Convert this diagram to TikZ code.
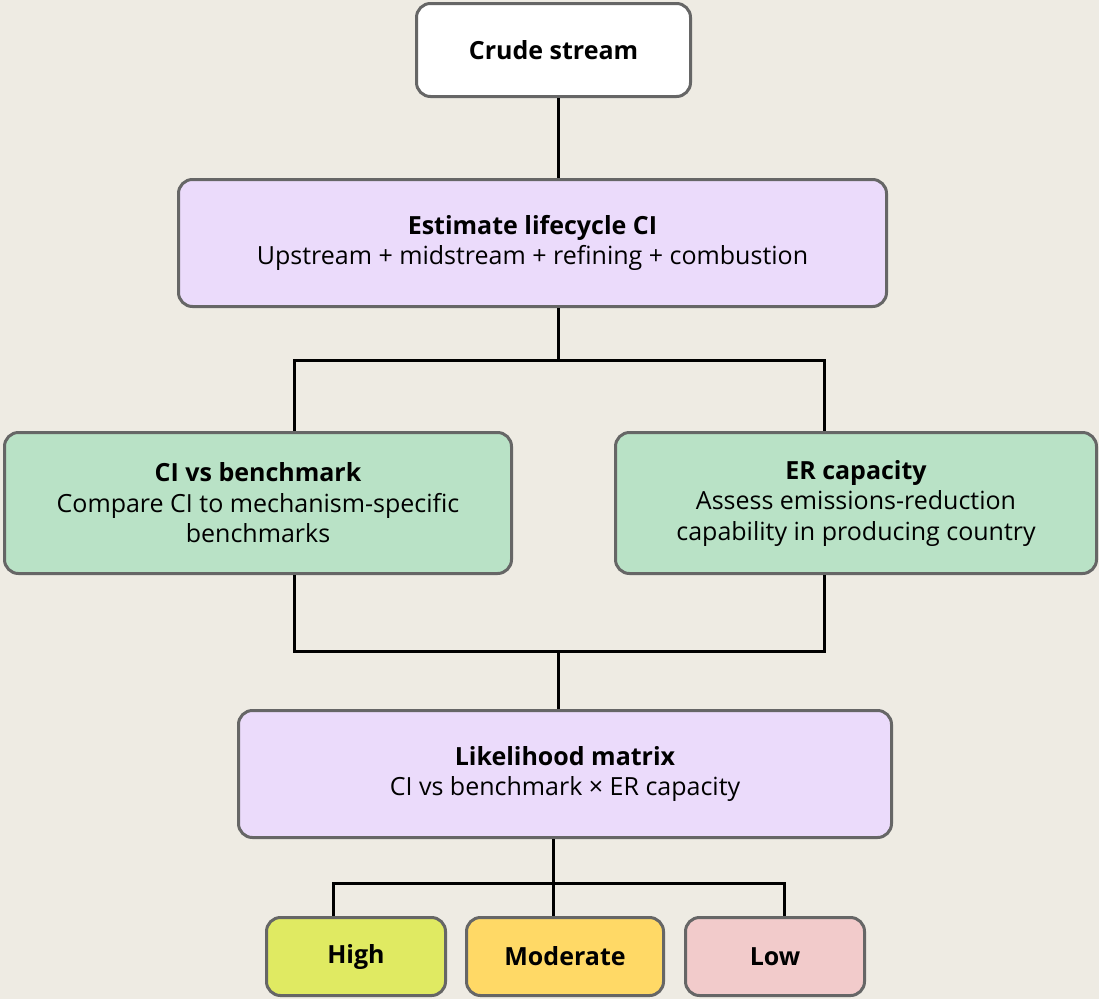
\documentclass[tikz,border=0pt]{standalone}
\usepackage{fontspec}
\setmainfont{Open Sans}
\definecolor{bg}{HTML}{EEEBE3}
\definecolor{bord}{HTML}{666666}
\definecolor{purp}{HTML}{EBDBFB}
\definecolor{grn}{HTML}{B9E2C6}
\definecolor{hi}{HTML}{E0EA62}
\definecolor{mod}{HTML}{FFD966}
\definecolor{lo}{HTML}{F2CBCB}
\begin{document}
\begin{tikzpicture}[x=1pt,y=-1pt,
  box/.style={draw=bord, line width=3pt, rounded corners=14pt, align=center, inner sep=0pt,
    font=\fontsize{25}{30.5}\selectfont},
  conn/.style={draw=black, line width=3pt}]
\fill[bg] (0,0) rectangle (1099,999);
\useasboundingbox (0,0) rectangle (1099,999);
\node[box, fill=white, minimum width=274, minimum height=93] (crude) at (553.5,50) {\textbf{Crude stream}};
\node[box, fill=purp, minimum width=708, minimum height=127] (est) at (532.5,243) {\textbf{Estimate lifecycle CI}\\Upstream + midstream + refining + combustion};
\node[box, fill=grn, minimum width=507, minimum height=141] (ci) at (258,503) {\textbf{CI vs benchmark}\\Compare CI to mechanism-specific\\benchmarks};
\node[box, fill=grn, minimum width=481, minimum height=141] (er) at (856,503) {\textbf{ER capacity}\\Assess emissions-reduction\\capability in producing country};
\node[box, fill=purp, minimum width=653, minimum height=127] (lik) at (565,774) {\textbf{Likelihood matrix}\\CI vs benchmark × ER capacity};
\node[box, fill=hi, minimum width=179, minimum height=78] (high) at (356,956.5) {\textbf{High}};
\node[box, fill=mod, minimum width=197, minimum height=78] (mod) at (565,956.5) {\textbf{Moderate}};
\node[box, fill=lo, minimum width=179, minimum height=78] (low) at (775,956.5) {\textbf{Low}};
% connectors
\draw[conn] ([xshift=4.5]crude.south) -- ([xshift=25.5]est.north);
\draw[conn] ([xshift=25.5]est.south) -- ++(0,52) coordinate (b1);
\draw[conn] ([xshift=36]ci.north) |- (b1) -| ([xshift=-32]er.north);
\draw[conn] ([xshift=36]ci.south) |- ([xshift=-7]lik.north |- 0,651) coordinate (b2) -| ([xshift=-32]er.south);
\draw[conn] (b2) -- ([xshift=-7]lik.north);
\draw[conn] ([xshift=-12]lik.south) -- ([xshift=-12]mod.north);
\draw[conn] ([xshift=-23]high.north) |- ([xshift=-12]mod.north |- 0,883) -| ([xshift=9]low.north);
\end{tikzpicture}
\end{document}
